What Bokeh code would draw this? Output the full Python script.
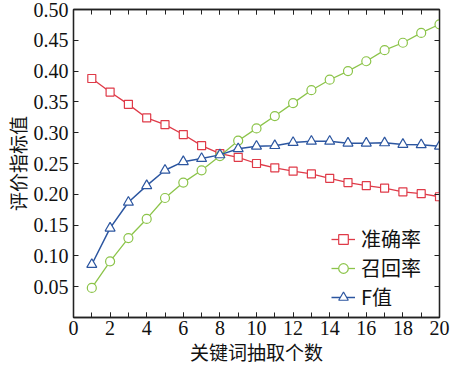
from bokeh.plotting import figure
from bokeh.models import (FixedTicker, LinearAxis, Range1d, Legend, LegendItem,
                          CustomJSTickFormatter)
from bokeh.embed import file_html
from bokeh.resources import INLINE

x = list(range(1, 21))
precision = [0.388, 0.366, 0.346, 0.324, 0.313, 0.297, 0.279, 0.266, 0.260, 0.250,
             0.243, 0.2375, 0.233, 0.226, 0.219, 0.214, 0.210, 0.204, 0.201, 0.196]
recall = [0.048, 0.091, 0.129, 0.160, 0.194, 0.219, 0.239, 0.262, 0.287, 0.307,
          0.327, 0.348, 0.369, 0.386, 0.400, 0.416, 0.434, 0.446, 0.462, 0.476]
fvalue = [0.086, 0.145, 0.187, 0.214, 0.239, 0.253, 0.258, 0.264, 0.274, 0.278,
          0.279, 0.284, 0.286, 0.286, 0.283, 0.283, 0.2835, 0.281, 0.2805, 0.278]
names = ["准确率", "召回率", "F值"]
x_ticks = list(range(0, 21, 2))
y_ticks = [0.05, 0.10, 0.15, 0.20, 0.25, 0.30, 0.35, 0.40, 0.45, 0.50]

RED, GREEN, BLUE = "#df3a48", "#8cc44a", "#2c56a0"
SERIF = "serif"
CJK = "Noto Sans CJK SC"

p = figure(width=450, height=368, output_backend="svg", toolbar_location=None,
           x_range=Range1d(0, 20), y_range=Range1d(0, 0.5),
           min_border_left=70, min_border_right=11, min_border_top=9, min_border_bottom=51)
p.xgrid.visible = False
p.ygrid.visible = False
p.outline_line_color = "#222222"
p.outline_line_width = 1.3

def style(ax):
    ax.major_tick_in = 5
    ax.major_tick_out = 0
    ax.minor_tick_in = 5
    ax.minor_tick_out = 0
    ax.axis_line_color = "#222222"
    ax.axis_line_width = 1.3
    ax.major_tick_line_color = "#222222"
    ax.minor_tick_line_color = "#222222"
    ax.major_label_text_font = SERIF
    ax.major_label_text_font_size = "20px"
    ax.major_label_text_color = "#111111"

p.xaxis.ticker = FixedTicker(ticks=x_ticks, minor_ticks=list(range(0, 21)))
p.yaxis.ticker = FixedTicker(ticks=y_ticks, minor_ticks=[])
style(p.xaxis[0])
style(p.yaxis[0])
p.yaxis.formatter = CustomJSTickFormatter(code="return tick.toFixed(2);")
p.xaxis.major_label_standoff = 3
p.yaxis.major_label_standoff = 5
p.xaxis.axis_label = "关键词抽取个数"
p.yaxis.axis_label = "评价指标值"
for ax in (p.xaxis[0], p.yaxis[0]):
    ax.axis_label_text_font = CJK
    ax.axis_label_text_font_size = "19px"
    ax.axis_label_text_font_style = "normal"
    ax.axis_label_text_color = "#111111"
p.xaxis.axis_label_standoff = 0
p.yaxis.axis_label_standoff = 0

top = LinearAxis(ticker=FixedTicker(ticks=x_ticks, minor_ticks=list(range(0, 21))),
                 formatter=CustomJSTickFormatter(code="return '';"))
style(top)
top.major_label_standoff = 0
p.add_layout(top, "above")
right = LinearAxis(ticker=FixedTicker(ticks=y_ticks, minor_ticks=[]),
                   formatter=CustomJSTickFormatter(code="return '';"))
style(right)
right.major_label_standoff = 0
p.add_layout(right, "right")

r1l = p.line(x, precision, color=RED, line_width=1.3)
r1m = p.scatter(x, precision, marker="square", size=8, line_color=RED, fill_color="white", line_width=1.2)
r2l = p.line(x, recall, color=GREEN, line_width=1.3)
r2m = p.scatter(x, recall, marker="circle", size=9, line_color=GREEN, fill_color="white", line_width=1.2)
r3l = p.line(x, fvalue, color=BLUE, line_width=1.5)
r3m = p.scatter(x, fvalue, marker="triangle", size=10, line_color=BLUE, fill_color="white", line_width=1.2)

legend = Legend(items=[LegendItem(label=names[0], renderers=[r1l, r1m]),
                       LegendItem(label=names[1], renderers=[r2l, r2m]),
                       LegendItem(label=names[2], renderers=[r3l, r3m])],
                location=(258, 6))
legend.border_line_color = None
legend.background_fill_alpha = 0
legend.padding = 0
legend.margin = 0
legend.spacing = 0
legend.glyph_width = 24
legend.glyph_height = 26
legend.label_height = 26
legend.label_standoff = 6
legend.label_text_font = CJK
legend.label_text_font_size = "20px"
legend.label_text_color = "#111111"
p.add_layout(legend, "center")

open("out.html", "w").write(file_html(p, INLINE))
